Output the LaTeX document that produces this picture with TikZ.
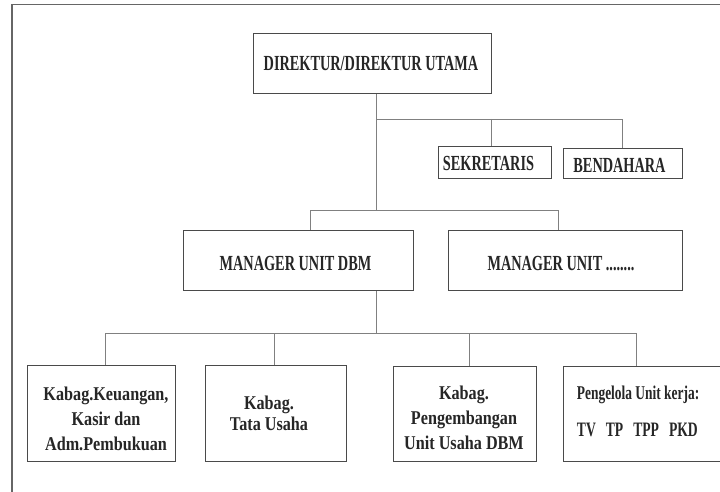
\documentclass[tikz,border=0pt]{standalone}
\usepackage{fontspec}
\usepackage{graphicx}
\newfontfamily\capf[FakeStretch=0.665]{Liberation Serif}
\newfontfamily\lowf[FakeStretch=0.83]{Liberation Serif}
\definecolor{txtc}{HTML}{262626}
\definecolor{boxc}{HTML}{4A4A4A}
\definecolor{linec}{HTML}{808080}
\definecolor{framec}{HTML}{666666}
\tikzset{
  box/.style={draw=boxc, line width=1pt, inner sep=0pt, fill=white},
  conn/.style={draw=linec, line width=0.9pt},
  captext/.style={text=txtc, inner sep=0pt, anchor=base, font=\capf\bfseries\fontsize{21.5}{24}\selectfont},
  lowtext/.style={text=txtc, inner sep=0pt, anchor=base, font=\lowf\bfseries\fontsize{19.5}{#1}\selectfont},
}
\begin{document}
\begin{tikzpicture}[x=1pt,y=-1pt]
\path[use as bounding box] (0,0) rectangle (720,492);
\clip (0,0) rectangle (720,492);
\fill[white] (0,0) rectangle (720,492);
% outer frame
\draw[framec, line width=1.3pt] (12,500) |- (730,4.5);

% boxes
\node[box, minimum width=238.4pt, minimum height=60.7pt] (dir) at (372.5,63.65) {};
\node[box, minimum width=113.4pt, minimum height=32pt] (sek) at (495,162.7) {};
\node[box, minimum width=119pt, minimum height=30.4pt] (bend) at (622.8,163.5) {};
\node[box, minimum width=230pt, minimum height=60pt] (dbm) at (298,260.7) {};
\node[box, minimum width=234pt, minimum height=60pt] (unit) at (565,260.7) {};
\node[box, minimum width=148pt, minimum height=96.4pt] (b1) at (101.3,413.5) {};
\node[box, minimum width=141.7pt, minimum height=96.4pt] (b2) at (275.85,413.5) {};
\node[box, minimum width=143.4pt, minimum height=94.5pt] (b3) at (465,413.75) {};
\node[box, minimum width=166.7pt, minimum height=94.5pt] (b4) at (646.65,413.75) {};

% junction coordinates
\coordinate (j1) at (376,119);
\coordinate (dsek) at (491,119);
\coordinate (j2) at (376,210);
\coordinate (m1) at (310,210);
\coordinate (m2) at (558,210);
\coordinate (j3) at (376,333);
\coordinate (k1) at (105.6,333);
\coordinate (k2) at (274.6,333);
\coordinate (k3) at (469.7,333);
\coordinate (k4) at (636,333);

% connectors
\draw[conn] (dir.south -| j1) -- (j2);
\draw[conn] (j1) -| (bend.north);
\draw[conn] (dsek) -- (sek.north -| dsek);
\draw[conn] (dbm.north -| m1) |- (m2) -- (unit.north -| m2);
\draw[conn] (dbm.south -| j3) -- (j3);
\draw[conn] (b1.north -| k1) |- (k4) -- (b4.north -| k4);
\draw[conn] (k2) -- (b2.north -| k2);
\draw[conn] (k3) -- (b3.north -| k3);

% labels
\node[captext] (tdir) at (371,70.7) {DIREKTUR/DIREKTUR UTAMA};
\node[captext] (tsek) at (488.5,170.5) {SEKRETARIS};
\node[captext] (tbend) at (619.5,172.5) {BENDAHARA};
\node[captext] (tdbm) at (295.5,270) {MANAGER UNIT DBM};
\node[captext] (tunit) at (561,270) {MANAGER UNIT ........};

\node[lowtext=25] (t1) at (106,400) {\begin{tabular}[t]{@{}c@{}}Kabag.Keuangan,\\Kasir dan\\Adm.Pembukuan\end{tabular}};
\node[lowtext=21.5] (t2) at (269,409.3) {\begin{tabular}[t]{@{}c@{}}Kabag.\\Tata Usaha\end{tabular}};
\node[lowtext=25] (t3) at (464,399.3) {\begin{tabular}[t]{@{}c@{}}Kabag.\\Pengembangan\\Unit Usaha DBM\end{tabular}};
\node[lowtext=25, anchor=base west] (t4) at (576.7,399.3) {\begin{tabular}[t]{@{}l@{}}\scalebox{0.83}[1]{Pengelola Unit kerja:}\\[11.7pt]{\capf\bfseries\fontsize{20.5}{25}\selectfont TV\hspace{10pt}TP\hspace{10pt}TPP\hspace{10pt}PKD}\end{tabular}};
\end{tikzpicture}
\end{document}
